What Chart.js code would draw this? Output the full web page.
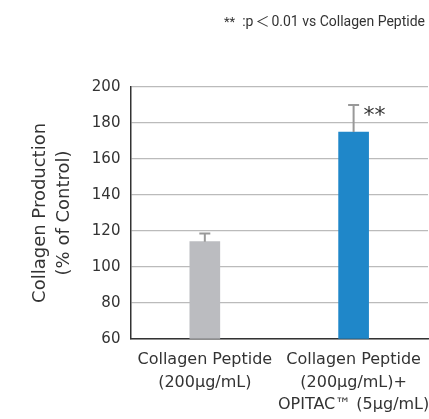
<!DOCTYPE html>
<html>
<head>
<meta charset="utf-8">
<script src="https://cdn.jsdelivr.net/npm/chart.js@4.4.0/dist/chart.umd.min.js"></script>
<style>
  html, body { margin: 0; padding: 0; background: #fff; }
  #wrap { position: relative; width: 429px; height: 419px; }
  #note {
    position: absolute; right: 4px; top: 10px; white-space: pre;
    font: 14px Roboto, "Noto Sans CJK JP", sans-serif; color: #333;
  }
  #note .st { font-size: 13px; margin-right: 7px; }
  #note .lt { margin: 0 2px; }
</style>
</head>
<body>
<div id="wrap">
  <div id="note"><span class="st">**</span>:p<span class="lt">＜</span>0.01 vs Collagen Peptide</div>
  <canvas id="myChart" width="429" height="419"></canvas>
</div>
<script>
const categories = [
  ['Collagen Peptide', '(200μg/mL)'],
  ['Collagen Peptide', '(200μg/mL)+', 'OPITAC™ (5μg/mL)'],
];
const production = [114, 175];
const errorUpper = [4.5, 15];
const marks = ['', '**'];
const barColors = ['#bbbcc0', '#1f87c9'];
const yTicks = [60, 80, 100, 120, 140, 160, 180, 200];

const fontFamily = '"DejaVu Sans", sans-serif';
const textColor = '#333';

// error bars (upper only) and significance marks
const errorBars = {
  id: 'errorBars',
  afterDatasetsDraw(chart) {
    const {ctx, scales: {y}} = chart;
    const meta = chart.getDatasetMeta(0);
    ctx.save();
    meta.data.forEach((bar, i) => {
      const top = y.getPixelForValue(production[i] + errorUpper[i]);
      ctx.strokeStyle = '#999';
      ctx.lineWidth = 2;
      ctx.beginPath();
      ctx.moveTo(bar.x, bar.y);
      ctx.lineTo(bar.x, top);
      ctx.moveTo(bar.x - 5.5, top);
      ctx.lineTo(bar.x + 5.5, top);
      ctx.stroke();
      if (marks[i]) {
        ctx.fillStyle = textColor;
        ctx.font = '22px ' + fontFamily;
        ctx.textAlign = 'left';
        ctx.textBaseline = 'middle';
        ctx.fillText(marks[i], bar.x + 10, y.getPixelForValue(183.5));
      }
    });
    ctx.restore();
  },
};

new Chart(document.getElementById('myChart'), {
  type: 'bar',
  data: {
    labels: categories,
    datasets: [{
      data: production,
      backgroundColor: barColors,
      barThickness: 30,
    }],
  },
  options: {
    responsive: false,
    animation: false,
    layout: {padding: {top: 87, right: 1, left: 29, bottom: -7}},
    plugins: {legend: {display: false}, tooltip: {enabled: false}},
    scales: {
      x: {
        afterFit: (scale) => { scale.paddingLeft = 0; scale.paddingRight = 0; },
        grid: {display: false, drawTicks: false},
        border: {color: '#333', width: 1.5},
        ticks: {color: textColor, font: {family: fontFamily, size: 16, lineHeight: 1.4}, padding: 10, maxRotation: 0, autoSkip: false},
      },
      y: {
        min: 60,
        max: 200,
        afterBuildTicks: (axis) => { axis.ticks = yTicks.map((v) => ({value: v})); },
        grid: {color: '#bbb', lineWidth: 1.2, drawTicks: false},
        border: {color: '#333', width: 1.5},
        ticks: {color: textColor, font: {family: fontFamily, size: 15}, padding: 10},
        title: {
          display: true,
          text: ['Collagen Production', '(% of Control)'],
          color: textColor,
          font: {family: fontFamily, size: 18, lineHeight: 1.3},
          padding: {top: 0, bottom: 6},
        },
      },
    },
  },
  plugins: [errorBars],
});
</script>
</body>
</html>
